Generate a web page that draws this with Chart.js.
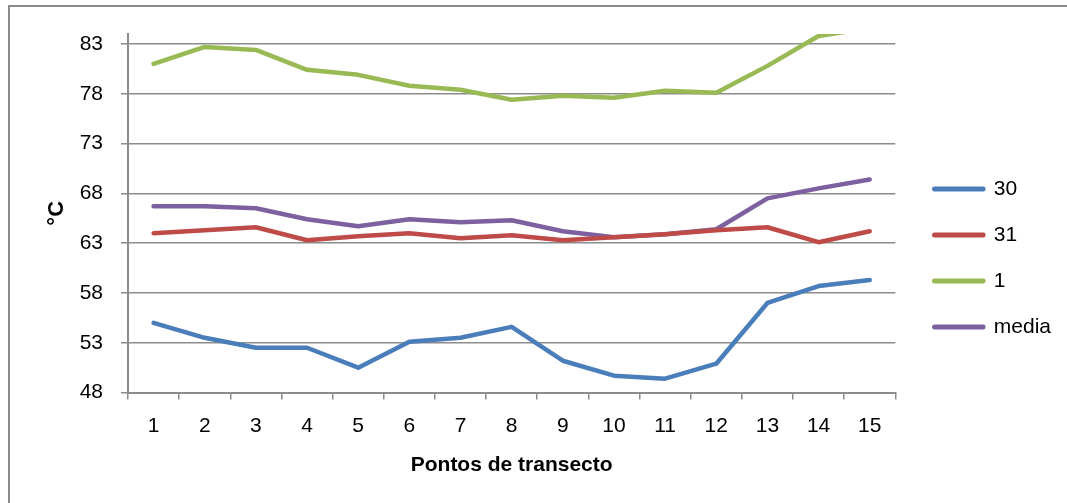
<!DOCTYPE html>
<html>
<head>
<meta charset="utf-8">
<script src="https://cdn.jsdelivr.net/npm/chart.js@4/dist/chart.umd.min.js"></script>
<style>
  html, body { margin: 0; padding: 0; background: #fff; }
  #wrap { position: relative; width: 1067px; height: 503px; overflow: hidden; }
  #frame { position: absolute; left: 8px; top: 5px; width: 1100px; height: 600px;
           border-top: 2px solid #8a8a8a; border-left: 2px solid #8a8a8a; }
  canvas { position: absolute; left: 0; top: 0; }
</style>
</head>
<body>
<div id="wrap">
  <div id="frame"></div>
  <canvas id="tempChart" width="1067" height="503"></canvas>
</div>
<script>
// Data
let pontos = ["1", "2", "3", "4", "5", "6", "7", "8", "9", "10", "11", "12", "13", "14", "15"];
let serie30 = [55.0, 53.5, 52.5, 52.5, 50.5, 53.1, 53.5, 54.6, 51.2, 49.7, 49.4, 50.9, 57.0, 58.7, 59.3];
let serie31 = [64.0, 64.3, 64.6, 63.3, 63.7, 64.0, 63.5, 63.8, 63.3, 63.6, 63.9, 64.3, 64.6, 63.1, 64.2];
let serie1 = [81.0, 82.7, 82.4, 80.4, 79.9, 78.8, 78.4, 77.4, 77.8, 77.6, 78.3, 78.1, 80.8, 83.8, 84.6];
let media = [66.7, 66.7, 66.5, 65.4, 64.7, 65.4, 65.1, 65.3, 64.2, 63.6, 63.9, 64.4, 67.5, 68.5, 69.4];
let yTicks = [48, 53, 58, 63, 68, 73, 78, 83];

const fontFam = "'Liberation Sans', Arial, sans-serif";
const gridGray = '#8c8c8c';

function lineSet(label, data, color) {
    return {
        label: label,
        data: data,
        borderColor: color,
        backgroundColor: color,
        borderWidth: 4.5,
        pointRadius: 0,
        tension: 0,
        borderCapStyle: 'round',
        borderJoinStyle: 'round'
    };
}

// push the legend a bit further from the plot, like the original
const legendShift = {
    id: 'legendShift',
    afterLayout(chart) {
        chart.legend.left += 14;
        chart.legend.right += 14;
    }
};

let ctx = document.getElementById('tempChart').getContext('2d');
new Chart(ctx, {
    type: 'line',
    data: {
        labels: pontos,
        datasets: [
            lineSet("30", serie30, '#4a7ebb'),
            lineSet("31", serie31, '#be4b48'),
            lineSet("1", serie1, '#98b954'),
            lineSet("media", media, '#7d60a0')
        ]
    },
    plugins: [legendShift],
    options: {
        responsive: false,
        animation: false,
        layout: { padding: { left: 30, top: 34, right: 20, bottom: 21 } },
        plugins: {
            tooltip: { enabled: false },
            legend: {
                position: 'right',
                labels: {
                    boxWidth: 49,
                    boxHeight: 0.5,
                    padding: 25,
                    color: '#000',
                    font: { family: fontFam, size: 21 }
                }
            }
        },
        scales: {
            x: {
                offset: true,
                grid: { display: true, drawOnChartArea: false, offset: true, tickLength: 7, color: gridGray, lineWidth: 1.5 },
                border: { color: gridGray, width: 2 },
                ticks: { color: '#000', padding: 14, maxRotation: 0, font: { family: fontFam, size: 21 } },
                title: { display: true, text: 'Pontos de transecto', color: '#000', padding: { top: 0 },
                         font: { family: fontFam, size: 21, weight: 'bold' } }
            },
            y: {
                min: 48,
                max: 84,
                afterBuildTicks: (scale) => { scale.ticks = yTicks.map(v => ({ value: v })); },
                afterFit: (scale) => { scale.width = 98; },
                grid: { color: gridGray, lineWidth: 1.5, tickLength: 7 },
                border: { color: gridGray, width: 2 },
                ticks: { color: '#000', padding: 18, font: { family: fontFam, size: 21 } },
                title: { display: true, text: '°C', color: '#000', padding: { top: 14, bottom: 0 },
                         font: { family: fontFam, size: 22, weight: 'bold' } }
            }
        }
    }
});
</script>
</body>
</html>
